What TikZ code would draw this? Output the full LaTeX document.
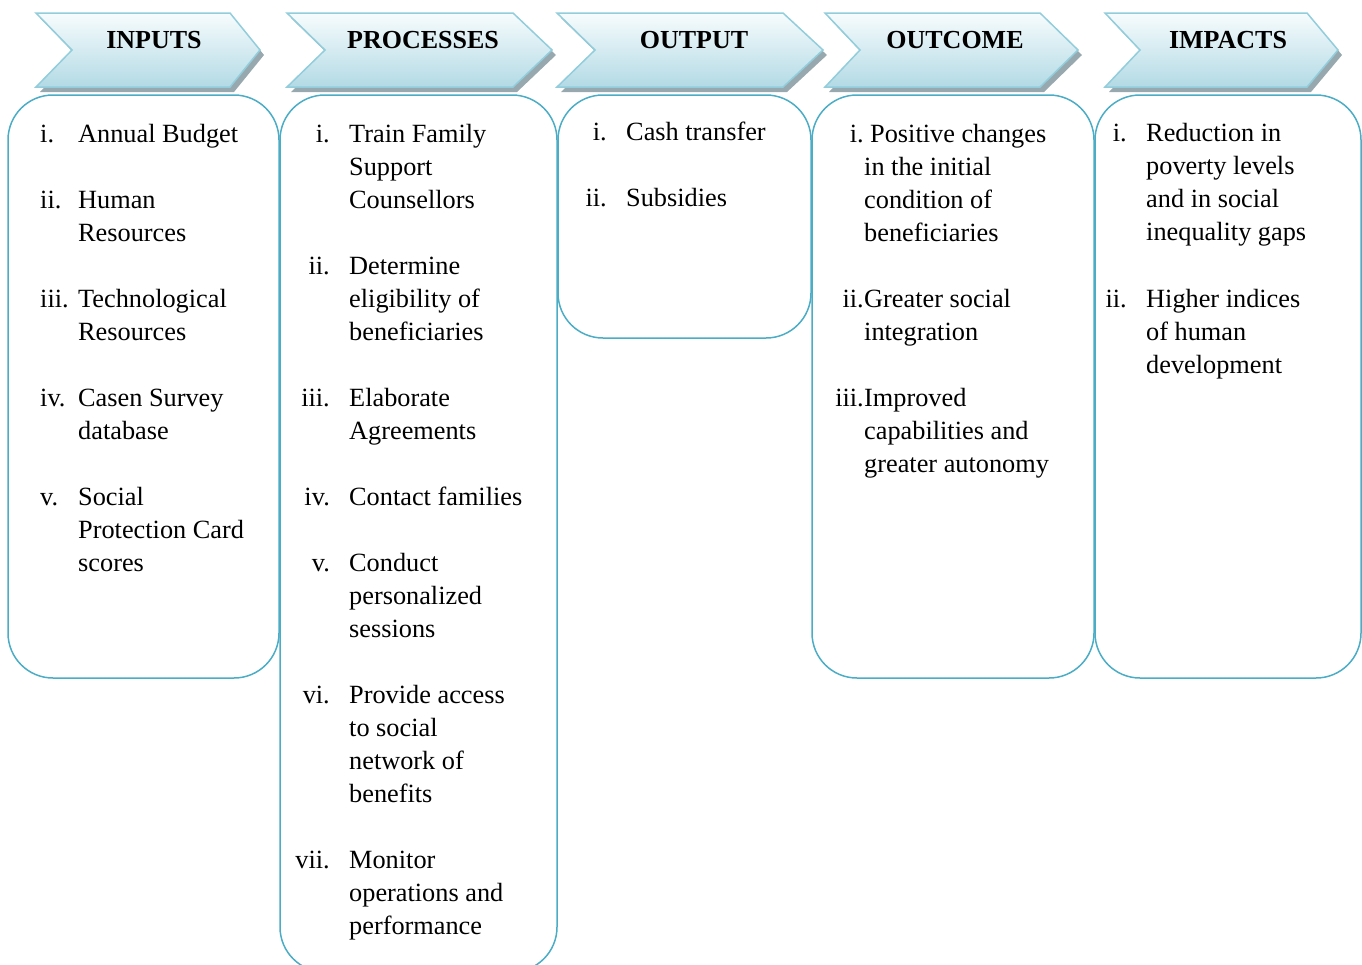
\documentclass[tikz,border=0pt]{standalone}
\usepackage{fontspec}
\setmainfont{Liberation Serif}
\usepackage{xcolor}
\usetikzlibrary{positioning}

\definecolor{frameteal}{HTML}{4BACC6}
\definecolor{bannerline}{HTML}{92CDDC}
\definecolor{bannertop}{HTML}{F7FCFD}
\definecolor{bannerbottom}{HTML}{B3DAE5}
\definecolor{bannershade}{HTML}{98A8AF}

\begin{document}
\begin{tikzpicture}[
  x=1pt, y=-1pt,
  font=\fontsize{26.3}{33}\selectfont,
  column/.style={draw=frameteal, line width=1.5pt, rounded corners=45pt},
  banner/.style={draw=bannerline, line width=1.5pt, top color=bannertop, bottom color=bannerbottom},
  shadow/.style={fill=bannershade, shift={(4,5)}},
  title/.style={font=\fontsize{26}{33}\selectfont\bfseries, anchor=base, inner sep=0pt},
  entry/.style={anchor=base west, align=left, inner sep=0pt, yshift=-2pt},
  numeral/.style={anchor=base east, inner sep=0pt, yshift=-2pt}
]
  \useasboundingbox (0,0) rectangle (1362,964);

  \fill[shadow] (36,13) -- (230,13) -- (260,50) -- (230,87) -- (36,87) -- (72,50) -- cycle;
  \path[banner] (36,13) -- (230,13) -- (260,50) -- (230,87) -- (36,87) -- (72,50) -- cycle;
  \fill[shadow] (287,13) -- (513,13) -- (552,50) -- (513,87) -- (287,87) -- (325,50) -- cycle;
  \path[banner] (287,13) -- (513,13) -- (552,50) -- (513,87) -- (287,87) -- (325,50) -- cycle;
  \fill[shadow] (557,13) -- (783,13) -- (823,50) -- (783,87) -- (557,87) -- (595,50) -- cycle;
  \path[banner] (557,13) -- (783,13) -- (823,50) -- (783,87) -- (557,87) -- (595,50) -- cycle;
  \fill[shadow] (825,13) -- (1040,13) -- (1078,50) -- (1040,87) -- (825,87) -- (860,50) -- cycle;
  \path[banner] (825,13) -- (1040,13) -- (1078,50) -- (1040,87) -- (825,87) -- (860,50) -- cycle;
  \fill[shadow] (1105,13) -- (1307,13) -- (1338,50) -- (1307,87) -- (1105,87) -- (1140,50) -- cycle;
  \path[banner] (1105,13) -- (1307,13) -- (1338,50) -- (1307,87) -- (1105,87) -- (1140,50) -- cycle;

  \node[title] (inputs) at (154,48) {INPUTS};
  \node[title] (processes) at (423,48) {PROCESSES};
  \node[title] (output) at (694,48) {OUTPUT};
  \node[title] (outcome) at (955,48) {OUTCOME};
  \node[title] (impacts) at (1228,48) {IMPACTS};

  \draw[column] (8,95) rectangle (279,678);
  \draw[column] (280,95) rectangle (557,972);
  \draw[column] (558,95) rectangle (811,338);
  \draw[column] (812,95) rectangle (1094,678);
  \draw[column] (1095,95) rectangle (1361,678);

  \node[entry] (in1n) at (40,140) {i.};
  \node[entry] (in1) at (78,140) {Annual Budget};
  \node[entry] (in2n) at (40,206) {ii.};
  \node[entry] (in2) at (78,239) {Human\\Resources};
  \node[entry] (in3n) at (40,305) {iii.};
  \node[entry] (in3) at (78,338) {Technological\\Resources};
  \node[entry] (in4n) at (40,404) {iv.};
  \node[entry] (in4) at (78,437) {Casen Survey\\database};
  \node[entry] (in5n) at (40,503) {v.};
  \node[entry] (in5) at (78,569) {Social\\Protection Card\\scores};

  \node[numeral] (pr1n) at (330,140) {i.};
  \node[entry] (pr1) at (349,206) {Train Family\\Support\\Counsellors};
  \node[numeral] (pr2n) at (330,272) {ii.};
  \node[entry] (pr2) at (349,338) {Determine\\eligibility of\\beneficiaries};
  \node[numeral] (pr3n) at (330,404) {iii.};
  \node[entry] (pr3) at (349,437) {Elaborate\\Agreements};
  \node[numeral] (pr4n) at (330,503) {iv.};
  \node[entry] (pr4) at (349,503) {Contact families};
  \node[numeral] (pr5n) at (330,569) {v.};
  \node[entry] (pr5) at (349,635) {Conduct\\personalized\\sessions};
  \node[numeral] (pr6n) at (330,701) {vi.};
  \node[entry] (pr6) at (349,800) {Provide access\\to social\\network of\\benefits};
  \node[numeral] (pr7n) at (330,866) {vii.};
  \node[entry] (pr7) at (349,932) {Monitor\\operations and\\performance};

  \node[numeral] (out1n) at (607,138) {i.};
  \node[entry] (out1) at (626,138) {Cash transfer};
  \node[numeral] (out2n) at (607,204) {ii.};
  \node[entry] (out2) at (626,204) {Subsidies};

  \node[numeral] (oc1n) at (864,140) {i.};
  \node[entry] (oc1) at (864,239) {\hspace*{6pt}Positive changes\\in the initial\\condition of\\beneficiaries};
  \node[numeral] (oc2n) at (864,305) {ii.};
  \node[entry] (oc2) at (864,338) {Greater social\\integration};
  \node[numeral] (oc3n) at (864,404) {iii.};
  \node[entry] (oc3) at (864,470) {Improved\\capabilities and\\greater autonomy};

  \node[numeral] (im1n) at (1127,139) {i.};
  \node[entry] (im1) at (1146,238) {Reduction in\\poverty levels\\and in social\\inequality gaps};
  \node[numeral] (im2n) at (1127,305) {ii.};
  \node[entry] (im2) at (1146,371) {Higher indices\\of human\\development};
\end{tikzpicture}
\end{document}
